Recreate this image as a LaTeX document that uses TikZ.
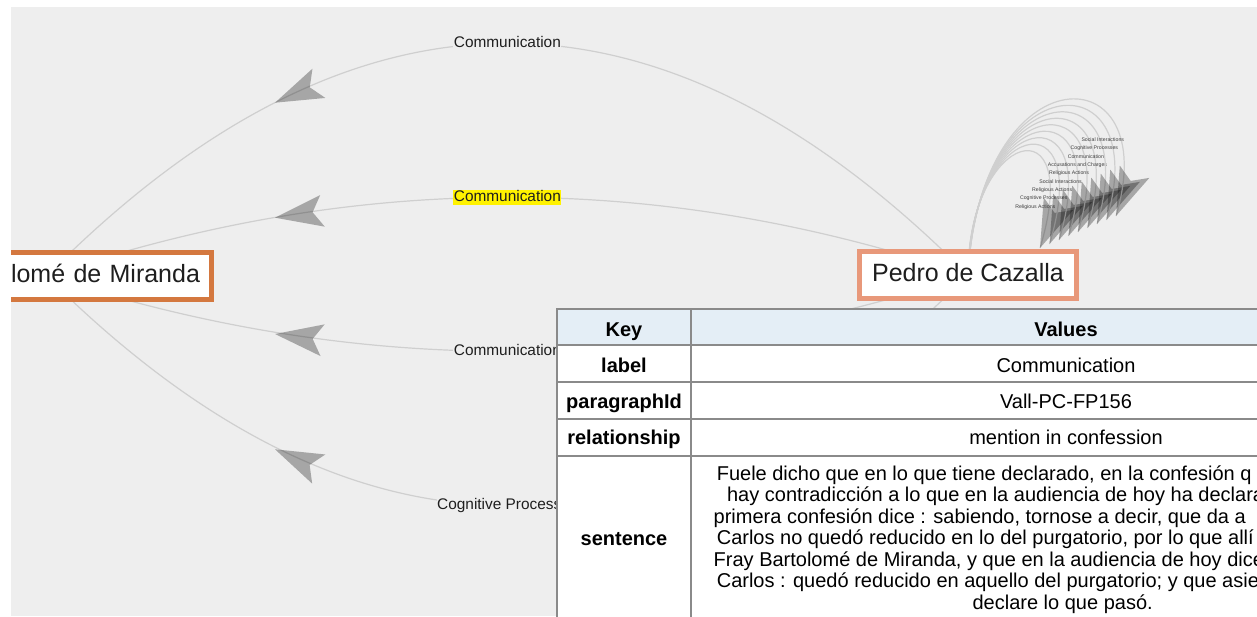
\documentclass[tikz,border=0pt]{standalone}
\usepackage{fontspec}
\setmainfont{Liberation Sans}
\usetikzlibrary{calc}
\definecolor{bgc}{HTML}{EEEEEE}
\definecolor{edgec}{HTML}{CFCFCF}
\definecolor{pedroc}{HTML}{E8987A}
\definecolor{bartc}{HTML}{D4783F}
\definecolor{hdrc}{HTML}{E4EEF6}
\definecolor{gridc}{HTML}{8A8A8A}
\definecolor{txtc}{HTML}{1E1E1E}
\pgfdeclarelayer{bottom}
\pgfdeclarelayer{background}
\pgfsetlayers{bottom,background,main}
\tikzset{
 edge/.style={draw=edgec, line width=1.2pt},
 dartfill/.style={fill=black, fill opacity=0.3},
 person/.style={draw, fill=white, line width=5pt, minimum height=46.7pt, inner ysep=0pt,
   font=\fontsize{25}{30}\selectfont, text height=18pt, text depth=5pt, outer sep=0pt, text=txtc},
 elabel/.style={font=\fontsize{15.4}{18}\selectfont, text=txtc, fill=bgc, inner sep=0.5pt,
   text height=11pt, text depth=3pt},
 hilite/.style={fill=yellow},
 looplabel/.style={font=\fontsize{5.2}{6}\selectfont, text=txtc!85, inner sep=0pt},
 cell/.style={font=\fontsize{20}{24}\selectfont, text=black, anchor=base, inner sep=0pt},
 keycell/.style={cell, font=\fontsize{20}{24}\selectfont\bfseries},
 sline/.style={font=\fontsize{20}{24}\selectfont, text=black, anchor=base west, inner sep=0pt},
 gridline/.style={draw=gridc, line width=1.3pt},
}
\newcommand{\dartat}[2]{\fill[dartfill] (#1) -- ($(#1)!50.6pt!18.43:(#2)$) -- ($(#1)!38pt!(#2)$) -- ($(#1)!50.6pt!-18.43:(#2)$) -- cycle;}
\begin{document}
\begin{tikzpicture}[x=1pt,y=-1pt]
\useasboundingbox (0,0) rectangle (1257,616);
\begin{pgfonlayer}{bottom}
\fill[bgc] (11,7) rectangle (1257,616);
\end{pgfonlayer}
\begin{scope}
\clip (11,7) rectangle (1257,616);
\node[person, draw=pedroc, minimum width=217.6pt] (pedro) at (968,275.2) {Pedro de Cazalla};
\node[person, draw=bartc, minimum width=330pt, text width=307pt, align=right, inner xsep=11.5pt] (bart) at (46.5,276) {lomé de Miranda};
% table
\fill[white] (557,309) rectangle (1441,640);
\fill[hdrc] (557,309) rectangle (1441,345);
\draw[gridline] (557,309) rectangle (1441,640);
\foreach \yy in {345,382,419,456} \draw[gridline] (557,\yy) -- (1441,\yy);
\draw[gridline] (691,309) -- (691,640);
\node[keycell] (hkey) at (624,336.5) {Key};
\node[keycell] (hval) at (1066,336.5) {Values};
\node[keycell] (klabel) at (624,372) {label};
\node[cell] (vlabel) at (1066,372) {Communication};
\node[keycell] (kpid) at (624,408) {paragraphId};
\node[cell] (vpid) at (1066,408) {Vall-PC-FP156};
\node[keycell] (krel) at (624,444) {relationship};
\node[cell] (vrel) at (1066,444) {mention in confession};
\node[keycell] (ksent) at (624,545) {sentence};
\node[sline] (s1) at (716.6,480) {Fuele dicho que en lo que tiene declarado, en la confesión q};
\node[sline] (s2) at (726.9,501.5) {hay contradicción a lo que en la audiencia de hoy ha declara};
\node[sline] (s3) at (713.5,523) {primera confesión dice : sabiendo, tornose a decir, que da a};
\node[sline] (s4) at (716.6,544.5) {Carlos no quedó reducido en lo del purgatorio, por lo que allí};
\node[sline] (s5) at (713.5,566) {Fray Bartolomé de Miranda, y que en la audiencia de hoy dice};
\node[sline] (s6) at (716.6,587.5) {Carlos : quedó reducido en aquello del purgatorio; y que asie};
\node[sline] (s7) at (972.4,609) {declare lo que pasó.};
\end{scope}
\begin{pgfonlayer}{background}
\coordinate (q1) at (507.5,-189);
\coordinate (q2) at (507.5,119);
\coordinate (q3) at (507.5,427);
\coordinate (q4) at (507.5,735);
\draw[edge] (pedro.center) .. controls ($(pedro.center)!0.6667!(q1)$) and ($(bart.center)!0.6667!(q1)$) .. (bart.center) node[elabel, pos=0.5] (l1) {Communication};
\draw[edge] (pedro.center) .. controls ($(pedro.center)!0.6667!(q2)$) and ($(bart.center)!0.6667!(q2)$) .. (bart.center) node[elabel, hilite, pos=0.5] (l2) {Communication};
\draw[edge] (pedro.center) .. controls ($(pedro.center)!0.6667!(q3)$) and ($(bart.center)!0.6667!(q3)$) .. (bart.center) node[elabel, pos=0.5] (l3) {Communication};
\draw[edge] (pedro.center) .. controls ($(pedro.center)!0.6667!(q4)$) and ($(bart.center)!0.6667!(q4)$) .. (bart.center) node[elabel, pos=0.5] (l4) {Cognitive Processes};
\dartat{275,102.7}{317.8,83.8}
\dartat{275,217.7}{322.8,210.8}
\dartat{275,334}{323.3,340.3}
\dartat{275,449.3}{318,468.7}
% self loops on Pedro
\foreach \k/\t in {0/Religious Actions,1/Cognitive Processes,2/Religious Actions,3/Social Interactions,4/Religious Actions,5/Accusations and Charges,6/Communication,7/Cognitive Processes,8/Social Interactions}{
  \draw[edge] (pedro.center) .. controls (968+1.5*\k,130-10*\k) and (1085+10*\k,100-6*\k) .. (1040+9.5*\k,248-4*\k);
  \dartat{1040+9.5*\k,248-4*\k}{1058+9.5*\k,205-4*\k}
  \node[looplabel] (ll\k) at (1035.3+8.43*\k,207-8.46*\k) {\t};
}
\end{pgfonlayer}
\end{tikzpicture}
\end{document}
